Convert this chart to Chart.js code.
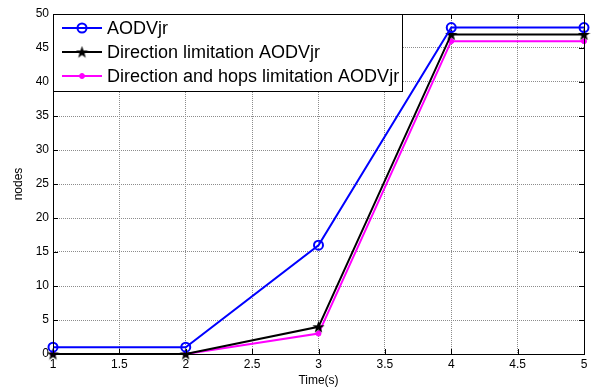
<!DOCTYPE html>
<html>
<head>
<meta charset="utf-8">
<script src="https://cdn.jsdelivr.net/npm/chart.js@4"></script>
<style>
  html, body { margin: 0; padding: 0; background: #fff; }
  #wrap { width: 591px; height: 391px; }
</style>
</head>
<body>
<div id="wrap"><canvas id="grafico" width="591" height="391"></canvas></div>
<script>
// values
var tempo = [1, 2, 3, 4, 5];
var aodvjr = [1, 1, 16, 48, 48];
var direcao = [0, 0, 4, 47, 47];
var direcao_saltos = [0, 0, 3, 46, 46];
var nomes = ['AODVjr', 'Direction limitation AODVjr', 'Direction and hops limitation AODVjr'];

var fonte = 'Arial, "Liberation Sans", sans-serif';

function pontos(ys) {
  return tempo.map(function(t, i){ return {x: t, y: ys[i]}; });
}

// filled five point star like matlab's pentagram
function estrela(tam) {
  var c = document.createElement('canvas');
  c.width = tam; c.height = tam;
  var g = c.getContext('2d');
  var r1 = tam / 2, r2 = tam / 5, cx = tam / 2, cy = tam / 2 + 0.5;
  g.beginPath();
  for (var k = 0; k < 10; k++) {
    var r = k % 2 ? r2 : r1;
    var a = -Math.PI / 2 + k * Math.PI / 5;
    g.lineTo(cx + r * Math.cos(a), cy + r * Math.sin(a));
  }
  g.closePath();
  g.fillStyle = '#000';
  g.fill();
  return c;
}
var star = estrela(13);

// frame, inward ticks and the legend box in the upper left corner
var moldura = {
  id: 'moldura',
  afterDraw: function(chart) {
    var ctx = chart.ctx, a = chart.chartArea;
    var sx = chart.scales.x, sy = chart.scales.y;
    ctx.save();
    ctx.strokeStyle = '#000';
    ctx.lineWidth = 1;
    ctx.strokeRect(Math.round(a.left) + 0.5, Math.round(a.top) + 0.5,
                   Math.round(a.right - a.left), Math.round(a.bottom - a.top));
    ctx.beginPath();
    sx.ticks.forEach(function(t){
      var px = Math.round(sx.getPixelForValue(t.value)) + 0.5;
      ctx.moveTo(px, a.bottom); ctx.lineTo(px, a.bottom - 5);
      ctx.moveTo(px, a.top); ctx.lineTo(px, a.top + 5);
    });
    sy.ticks.forEach(function(t){
      var py = Math.round(sy.getPixelForValue(t.value)) + 0.5;
      ctx.moveTo(a.left, py); ctx.lineTo(a.left + 5, py);
      ctx.moveTo(a.right, py); ctx.lineTo(a.right - 5, py);
    });
    ctx.stroke();

    // legend
    var bx = Math.round(a.left) + 0.5, by = Math.round(a.top) + 0.5;
    ctx.fillStyle = '#fff';
    ctx.fillRect(bx, by, 349, 77);
    ctx.strokeRect(bx, by, 349, 77);
    var linhas = [28, 52, 76];
    chart.data.datasets.forEach(function(ds, i){
      var y = linhas[i];
      ctx.strokeStyle = ds.borderColor;
      ctx.lineWidth = 2;
      ctx.beginPath();
      ctx.moveTo(62, y); ctx.lineTo(102, y);
      ctx.stroke();
      ctx.fillStyle = ds.pointBackgroundColor;
      ctx.strokeStyle = ds.borderColor;
      ctx.lineWidth = ds.pointBorderWidth;
      Chart.helpers.drawPoint(ctx, {
        pointStyle: ds.pointStyle, radius: ds.pointRadius,
        borderWidth: ds.pointBorderWidth, rotation: 0
      }, 82, y);
      ctx.fillStyle = '#000';
      ctx.font = '18px ' + fonte;
      ctx.textBaseline = 'middle';
      ctx.textAlign = 'left';
      ctx.fillText(ds.label, 107, y + 1);
    });
    ctx.restore();
  }
};

new Chart(document.getElementById('grafico').getContext('2d'), {
  type: 'line',
  data: {
    datasets: [
      {
        label: nomes[0],
        data: pontos(aodvjr),
        borderColor: '#0000ff',
        borderWidth: 2,
        pointStyle: 'circle',
        pointRadius: 4.5,
        pointBorderWidth: 2,
        pointBackgroundColor: 'rgba(255,255,255,0)',
        pointBorderColor: '#0000ff',
        fill: false,
        clip: false
      },
      {
        label: nomes[1],
        data: pontos(direcao),
        borderColor: '#000000',
        borderWidth: 2,
        pointStyle: star,
        pointRadius: 6,
        pointBorderWidth: 1,
        pointBackgroundColor: '#000000',
        pointBorderColor: '#000000',
        fill: false,
        clip: false
      },
      {
        label: nomes[2],
        data: pontos(direcao_saltos),
        borderColor: '#ff00ff',
        borderWidth: 2,
        pointStyle: 'circle',
        pointRadius: 2.5,
        pointBorderWidth: 1,
        pointBackgroundColor: '#ff00ff',
        pointBorderColor: '#ff00ff',
        fill: false,
        clip: false
      }
    ]
  },
  options: {
    responsive: false,
    animation: false,
    events: [],
    layout: { padding: { top: 14, right: 7, left: 0, bottom: 0 } },
    scales: {
      x: {
        type: 'linear',
        min: 1,
        max: 5,
        afterFit: function(s){ s.height = 37; },
        ticks: {
          stepSize: 0.5,
          autoSkip: false,
          maxRotation: 0,
          padding: 3,
          color: '#000',
          font: { family: fonte, size: 12 },
          callback: function(v){ return String(v); }
        },
        grid: { color: '#8c8c8c', drawTicks: false },
        border: { display: false, dash: [1, 1] },
        title: {
          display: true,
          text: 'Time(s)',
          color: '#000',
          font: { family: fonte, size: 12 },
          padding: { top: 0, bottom: 3 }
        }
      },
      y: {
        min: 0,
        max: 50,
        afterFit: function(s){ s.width = 53; },
        ticks: {
          stepSize: 5,
          autoSkip: false,
          padding: 4,
          color: '#000',
          font: { family: fonte, size: 12 }
        },
        grid: { color: '#8c8c8c', drawTicks: false },
        border: { display: false, dash: [1, 1] },
        title: {
          display: true,
          text: 'nodes',
          color: '#000',
          font: { family: fonte, size: 12 },
          padding: { top: 11, bottom: 0 }
        }
      }
    },
    plugins: {
      legend: { display: false },
      tooltip: { enabled: false }
    }
  },
  plugins: [moldura]
});
</script>
</body>
</html>
